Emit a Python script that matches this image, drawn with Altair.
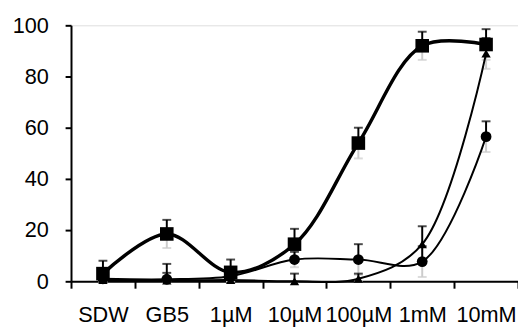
import altair as alt
import pandas as pd

categories = ["SDW", "GB5", "1µM", "10µM", "100µM", "1mM", "10mM"]
square_vals = [3, 18.5, 3.5, 14.5, 54, 92, 92.5]
square_err = [5, 5.5, 5, 6, 6, 5.5, 6]
circle_vals = [1, 0.8, 2, 8.5, 8.5, 7.7, 56.5]
circle_err = [3, 6, 3, 3, 6, 6, 6]
triangle_vals = [0.5, 0.3, 0.5, 0, 1, 14.5, 89]
triangle_err = [3, 3, 3, 3, 2, 7, 6]

rows = []
for name, vals, errs in [("square", square_vals, square_err),
                         ("circle", circle_vals, circle_err),
                         ("triangle", triangle_vals, triangle_err)]:
    for c, v, e in zip(categories, vals, errs):
        rows.append({"cat": c, "series": name, "v": v, "hi": v + e, "lo": max(v - e, 0)})
df = pd.DataFrame(rows)

FONT = "Liberation Sans"

x_enc = alt.X(
    "cat:N", sort=categories,
    scale=alt.Scale(type="band", paddingInner=0, paddingOuter=0),
    axis=alt.Axis(title=None, labelAngle=0, tickBand="extent", grid=False,
                  domainColor="black", domainWidth=2, tickColor="black", tickWidth=2,
                  tickSize=7, labelPadding=17, labelFont=FONT, labelFontSize=22,
                  labelColor="black", labelOverlap=False, labelBound=False),
)
y_scale = alt.Scale(domain=[0, 100], nice=False)
y_enc = alt.Y(
    "v:Q", scale=y_scale,
    axis=alt.Axis(title=None, values=[0, 20, 40, 60, 80, 100], grid=False,
                  domainColor="black", domainWidth=2, tickColor="black", tickWidth=2,
                  tickSize=6, labelPadding=17, labelFont=FONT, labelFontSize=22,
                  labelColor="black"),
)

base = alt.Chart(df)

lower = base.mark_rule(color="#cccccc", strokeWidth=2).encode(
    x=x_enc, y=alt.Y("lo:Q", scale=y_scale), y2="v:Q")
lower_cap = base.mark_tick(color="#cccccc", thickness=2, size=9).encode(
    x=x_enc, y=alt.Y("lo:Q", scale=y_scale))

line_sq = base.transform_filter(alt.datum.series == "square").mark_line(
    color="black", strokeWidth=3.5, interpolate="catmull-rom").encode(x=x_enc, y=y_enc)
line_ci = base.transform_filter(alt.datum.series == "circle").mark_line(
    color="black", strokeWidth=2, interpolate="catmull-rom").encode(x=x_enc, y=y_enc)
line_tr = base.transform_filter(alt.datum.series == "triangle").mark_line(
    color="black", strokeWidth=2, interpolate="catmull-rom").encode(x=x_enc, y=y_enc)

upper = base.mark_rule(color="black", strokeWidth=2).encode(
    x=x_enc, y=alt.Y("v:Q", scale=y_scale), y2="hi:Q")
upper_cap = base.mark_tick(color="black", thickness=2, size=9).encode(
    x=x_enc, y=alt.Y("hi:Q", scale=y_scale))

pts_sq = base.transform_filter(alt.datum.series == "square").mark_point(
    shape="square", filled=True, color="black", size=190, opacity=1).encode(x=x_enc, y=y_enc)
pts_ci = base.transform_filter(alt.datum.series == "circle").mark_point(
    shape="circle", filled=True, color="black", size=120, opacity=1).encode(x=x_enc, y=y_enc)
pts_tr = base.transform_filter(alt.datum.series == "triangle").mark_point(
    shape="triangle-up", filled=True, color="black", size=90, opacity=1).encode(x=x_enc, y=y_enc)

chart = alt.layer(
    lower, lower_cap, line_tr, line_ci, line_sq, upper, upper_cap, pts_tr, pts_ci, pts_sq
).properties(
    width=454, height=260, autosize="none",
    padding={"left": 64, "top": 15, "right": 0, "bottom": 55},
).configure_view(stroke=None).configure(background="white")

chart.save("out.html", embed_options={"renderer": "svg", "actions": False})
